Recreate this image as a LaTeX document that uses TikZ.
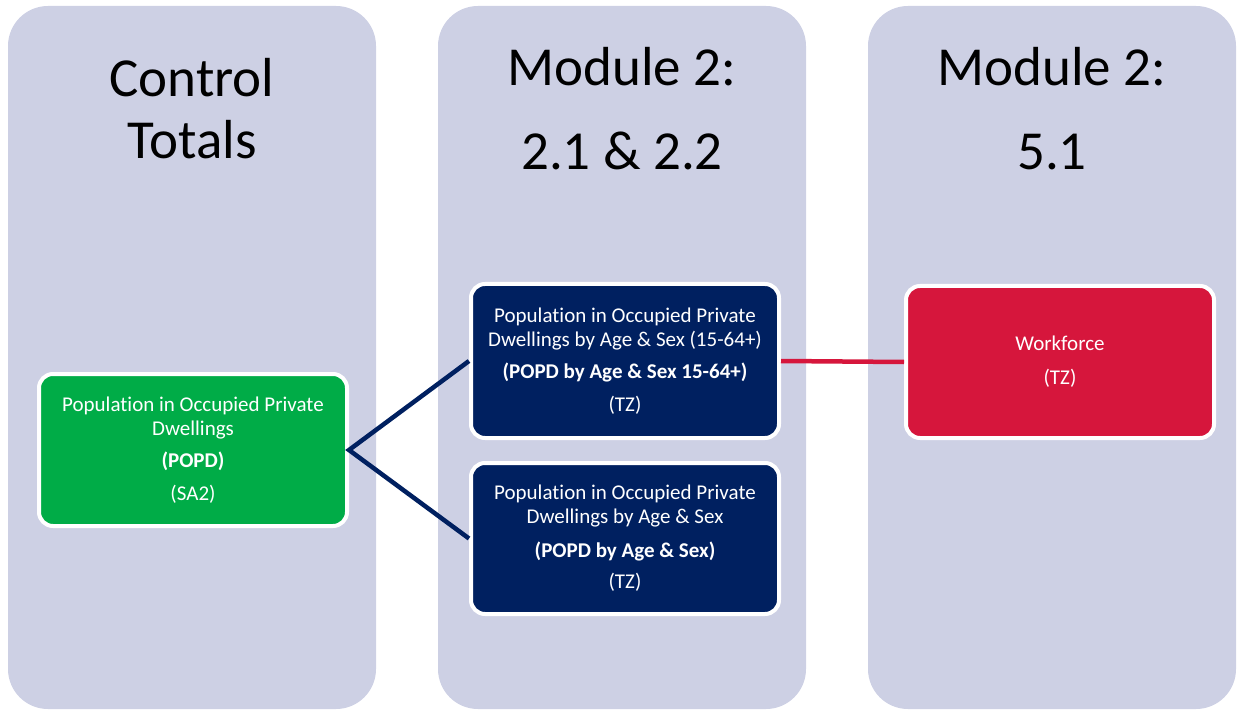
\documentclass[tikz,border=0pt]{standalone}
\usepackage{fontspec}
\setmainfont{Carlito}[Ligatures={NoCommon}]
\definecolor{colbg}{HTML}{CDD0E4}
\definecolor{popgreen}{HTML}{00AC47}
\definecolor{navy}{HTML}{002060}
\definecolor{workred}{HTML}{D6163C}
\begin{document}
\begin{tikzpicture}[x=1pt,y=-1pt,
  column/.style={fill=colbg, rounded corners=40pt},
  box/.style={draw=white, line width=4pt, rounded corners=14pt, text=white,
    align=center, font=\fontsize{21}{24}\selectfont, inner sep=0pt,
    minimum width=308pt},
  title/.style={font=\fontsize{55}{66}\selectfont, anchor=base, inner sep=0pt},
  link/.style={line width=4.5pt}]
\useasboundingbox (0,0) rectangle (1245,711);

% three stage columns
\fill[column] (8,6) rectangle (376,709);
\fill[column] (438,6) rectangle (806,709);
\fill[column] (868,6) rectangle (1236,709);

% column headings
\node[title] (t1a) at (192,97) {Control};
\node[title] (t1b) at (192,159) {Totals};
\node[title] (t2a) at (622,86) {Module 2:};
\node[title] (t2b) at (622,170) {2.1 \& 2.2};
\node[title] (t3a) at (1052,86) {Module 2:};
\node[title] (t3b) at (1052,170) {5.1};

% data boxes
\node[box, fill=popgreen, minimum height=152pt] (popd) at (193,450)
  {Population in Occupied Private\\Dwellings\\[8pt]\textbf{(POPD)}\\[9pt](SA2)};
\node[box, fill=navy, minimum height=154pt] (age64) at (625,361)
  {Population in Occupied Private\\Dwellings by Age \& Sex (15-64+)\\[8pt]\textbf{(POPD by Age \& Sex 15-64+)}\\[9pt](TZ)};
\node[box, fill=navy, minimum height=151pt] (agesex) at (625,538.5)
  {Population in Occupied Private\\Dwellings by Age \& Sex\\[10pt]\textbf{(POPD by Age \& Sex)}\\[7pt](TZ)};
\node[box, fill=workred, minimum height=152pt] (work) at (1060,362)
  {Workforce\\[10pt](TZ)};

% connectors
\draw[link, navy] (age64.west) -- (popd.east) -- (agesex.west);
\draw[link, workred] (age64.east) -- (work.west);
\end{tikzpicture}
\end{document}
